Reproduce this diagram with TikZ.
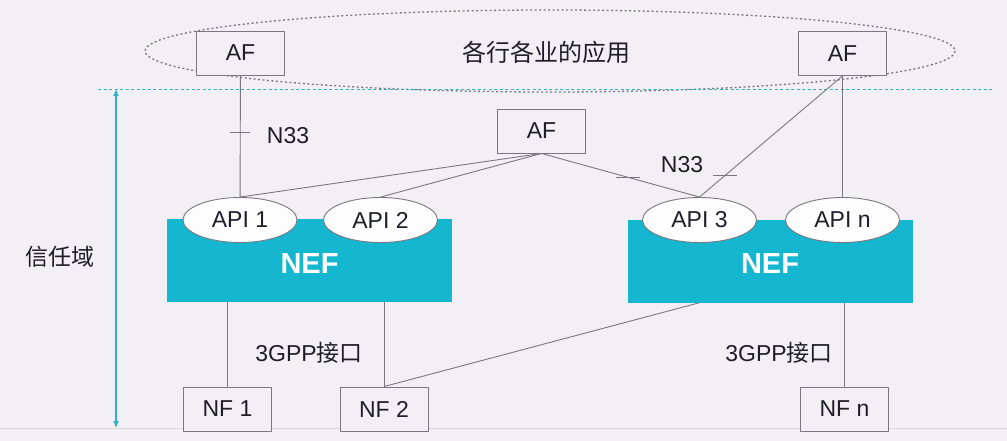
\documentclass[tikz,border=0pt]{standalone}
\usepackage{fontspec}
\setmainfont{Liberation Sans}
\newfontfamily\cjk{Noto Sans CJK SC}
\usetikzlibrary{shapes.geometric, arrows.meta}
\definecolor{bgcol}{RGB}{242,240,244}
\definecolor{nefcyan}{RGB}{20,182,208}
\definecolor{trustteal}{RGB}{45,180,204}
\definecolor{linegray}{RGB}{120,120,126}
\definecolor{txtgray}{RGB}{30,30,40}

\begin{document}
\begin{tikzpicture}[x=1pt, y=-1pt, font=\fontsize{23}{26}\selectfont, text=txtgray, line join=round, >={Latex[length=7pt, width=6pt]},
  box/.style={draw=linegray, fill=bgcol, line width=0.9pt, minimum width=88pt, minimum height=44pt, inner sep=0pt},
  api/.style={ellipse, draw=linegray, line width=0.9pt, fill=white!85!bgcol, minimum width=114pt, minimum height=45pt, inner sep=0pt},
  nef/.style={fill=nefcyan, minimum width=285pt, minimum height=83pt, inner sep=0pt},
  link/.style={draw=linegray, line width=0.9pt},
  tick/.style={draw=linegray, line width=0.9pt}]
	\fill[bgcol] (0,0) rectangle (1007,441);
	\useasboundingbox (0,0) rectangle (1007,441);
	% application domain
	\draw[linegray, line width=1.3pt, dash pattern=on 2pt off 2.5pt] (550,51) ellipse [x radius=405, y radius=41];
	\node[box] (afl) at (240.5,53) {AF};
	\node[box] (afr) at (842.5,53.5) {AF};
	\node[font=\cjk\fontsize{24}{26}\selectfont] (apps) at (546,52) {各行各业的应用};
	% trust domain
	\draw[trustteal, line width=0.9pt, dash pattern=on 3pt off 2.5pt] (98,89) -- (993,89);
	\draw[black!15, line width=0.8pt] (0,428) -- (1007,428);
	\coordinate (tdtop) at (116,89);
	\coordinate (tdbot) at (116,428);
	\draw[<->, trustteal, line width=1.2pt] (tdtop) -- (tdbot);
	\node[font=\cjk\fontsize{23}{26}\selectfont] (trust) at (60,257) {信任域};
	% NEF
	\node[box] (afm) at (541.5,131) {AF};
	\node[nef] (nefl) at (309.5,260.5) {};
	\node[nef] (nefr) at (770,261) {};
	\node[text=white, font=\bfseries\fontsize{29}{30}\selectfont] at (309.5,264) {NEF};
	\node[text=white, font=\bfseries\fontsize{29}{30}\selectfont] at (770,264) {NEF};
	\node[api] (api1) at (240,220) {API 1};
	\node[api] (api2) at (380.5,220) {API 2};
	\node[api] (api3) at (699.5,220) {API 3};
	\node[api] (apin) at (842.5,220) {API n};
	\node[box] (nf1) at (227.5,409) {NF 1};
	\node[box] (nf2) at (384,409) {NF 2};
	\node[box] (nfn) at (844.5,409) {NF n};
	% N33
	\draw[link] (afl) -- (api1) coordinate[pos=0.47] (t1);
	\draw[link] (afm.south) -- (api1.north);
	\draw[link] (afm.south) -- (api2.north);
	\draw[link] (afm.south) -- (api3.north) coordinate[pos=0.55] (t2);
	\draw[link] (afr.south) -- (api3.north) coordinate[pos=0.82] (t3);
	\draw[link] (afr) -- (apin);
	\draw[tick] ([xshift=-10pt]t1) -- ([xshift=10pt]t1);
	\draw[tick] ([xshift=-12pt]t2) -- ([xshift=12pt]t2);
	\draw[tick] ([xshift=-12pt]t3) -- ([xshift=12pt]t3);
	\node (n33a) at (288,136) {N33};
	\node (n33b) at (682,165) {N33};
	% 3GPP
	\draw[link] (nf1.north) -- (nf1.north |- nefl.south);
	\draw[link] (nf2.north) -- (nf2.north |- nefl.south);
	\draw[link] (nf2.north) -- (api3.north |- nefr.south);
	\draw[link] (nfn.north) -- (nfn.north |- nefr.south);
	\node (gppl) at (309,353) {3GPP{\cjk 接口}};
	\node (gppr) at (779,353) {3GPP{\cjk 接口}};
\end{tikzpicture}
\end{document}
